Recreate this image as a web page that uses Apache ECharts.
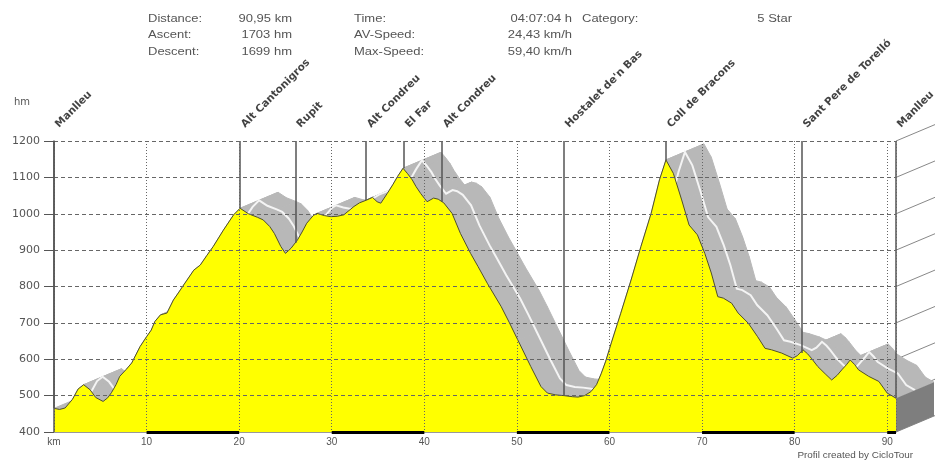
<!DOCTYPE html>
<html><head><meta charset="utf-8">
<script src="https://cdn.jsdelivr.net/npm/echarts@6/dist/echarts.min.js"></script>
<style>html,body{margin:0;padding:0;background:#fff}#c{width:935px;height:463px}</style>
</head><body><div id="c"></div>
<script>
const profileKm = [0,0.6,1.2,2.0,2.6,3.2,3.9,4.5,5.3,5.8,6.2,6.7,7.1,7.8,8.4,9.3,10.0,10.5,10.9,11.5,12.2,12.9,13.5,14.0,15.1,15.8,16.5,17.2,18.3,19.4,20.1,21.0,22.0,22.6,23.3,23.8,24.5,25.0,25.6,26.3,26.8,27.3,28.0,28.4,29.2,29.9,30.6,31.3,32.4,33.0,33.8,34.4,34.9,35.3,36.0,36.6,37.1,37.7,38.2,38.7,39.1,39.6,40.3,41.0,41.5,42.1,43.0,43.9,45.0,45.8,46.8,48.3,49.2,50.1,51.5,52.6,53.3,54.2,55.1,56.0,56.6,57.3,58.0,58.6,59.1,59.6,60.2,61.2,62.3,63.4,64.5,65.4,66.1,66.9,67.8,68.6,69.5,70.3,71.0,71.7,72.3,73.2,73.9,75.0,76.0,76.8,77.5,78.6,79.8,80.3,80.9,81.4,81.8,82.5,83.3,84.0,84.6,85.1,85.6,86.0,86.5,86.9,88.0,89.1,90.0,90.95];
const profileElev = [465,462,466,490,518,530,516,495,484,494,508,530,553,572,590,635,662,680,704,722,727,763,785,804,845,859,885,910,955,997,1015,1000,990,983,965,946,910,891,905,928,950,974,995,1001,995,992,993,997,1020,1030,1038,1045,1033,1029,1056,1080,1102,1125,1110,1093,1075,1056,1033,1043,1040,1030,1001,946,891,855,809,745,700,653,580,525,507,502,500,497,496,500,511,530,560,595,645,725,815,910,1001,1093,1148,1111,1038,969,942,891,837,772,768,754,727,699,662,630,626,617,603,610,626,615,603,580,560,543,556,571,585,598,585,571,553,539,507,493];

const waypointNames = ['Manlleu','Alt Cantonigros','Rupit','Alt Condreu','El Far','Alt Condreu',"Hostalet de'n Bas",'Coll de Bracons','Sant Pere de Torelló','Manlleu'];
const waypointKm = [0,20.1,26.1,33.7,37.8,41.9,55.1,66.1,80.8,90.95];
const waypointElev = [465,1015,920,1038,1125,1033,500,1148,617,493];

const scaleBarStart = [10,30,50,70,90];
const scaleBarEnd = [20,40,60,80,90.95];
const elevTicks = [400,500,600,700,800,900,1000,1100,1200];

const statLabelsA = ['Distance:','Ascent:','Descent:'];
const statValuesA = ['90,95 km','1703 hm','1699 hm'];
const statLabelsB = ['Time:','AV-Speed:','Max-Speed:'];
const statValuesB = ['04:07:04 h','24,43 km/h','59,40 km/h'];
const statLabelsC = ['Category:'];
const statValuesC = ['5 Star'];

const DEPTH = [38, -16];
const FONT = 'Liberation Sans, Arial, sans-serif';
const WIDE = 'DejaVu Sans, sans-serif';
const profile = profileKm.map((k, i) => [k, profileElev[i]]);
const lastKm = profileKm[profileKm.length - 1];

const chart = echarts.init(document.getElementById('c'), null, {renderer: 'canvas'});

function shift(p, f) { return [p[0] + DEPTH[0] * f, p[1] + DEPTH[1] * f]; }

const graphics = [];
const rowY = [19, 35, 52];
function headText(t, x, y, align) {
  graphics.push({type: 'text', x: x, y: y, scaleX: 1.3, z: 10,
    style: {text: t, font: '10px ' + FONT, fill: '#555', align: align, verticalAlign: 'middle'}});
}
statLabelsA.forEach((t, i) => headText(t, 148, rowY[i], 'left'));
statValuesA.forEach((t, i) => headText(t, 292, rowY[i], 'right'));
statLabelsB.forEach((t, i) => headText(t, 354, rowY[i], 'left'));
statValuesB.forEach((t, i) => headText(t, 572, rowY[i], 'right'));
statLabelsC.forEach((t, i) => headText(t, 582, rowY[i], 'left'));
statValuesC.forEach((t, i) => headText(t, 792, rowY[i], 'right'));
graphics.push({type: 'text', x: 913, y: 456, scaleX: 1.1, z: 10,
  style: {text: 'Profil created by CicloTour', font: '9px ' + FONT, fill: '#555', align: 'right', verticalAlign: 'middle'}});

const option = {
  animation: false,
  backgroundColor: '#fff',
  grid: {left: 54, right: 39, top: 141, bottom: 31},
  graphic: graphics,
  xAxis: {
    type: 'value', min: 0, max: lastKm, interval: 10, z: 6,
    axisLine: {show: true, lineStyle: {color: '#999', width: 1}},
    axisTick: {show: false},
    axisLabel: {margin: 5, color: '#555', fontFamily: FONT, fontSize: 10,
      formatter: v => (Math.abs(v % 10) > 0.001 ? '' : (v === 0 ? 'km' : String(v)))},
    splitLine: {show: true, lineStyle: {color: '#666', width: 1, type: [1, 2]}}
  },
  yAxis: {
    type: 'value', min: 400, max: 1200, interval: 100, z: 6,
    name: 'hm', nameLocation: 'end', nameGap: 34,
    nameTextStyle: {color: '#555', fontFamily: WIDE, fontSize: 10, align: 'right', padding: [0, 24, 0, 0]},
    axisLine: {show: true, lineStyle: {color: '#555', width: 1.5}},
    axisTick: {show: true, length: 10, lineStyle: {color: '#555'}},
    axisLabel: {margin: 14, color: '#555', fontFamily: WIDE, fontSize: 11, formatter: v => String(v)},
    splitLine: {show: true, lineStyle: {color: '#666', width: 1, type: [4, 3]}}
  },
  series: [
    { // right-hand 3D box lines
      type: 'custom', z: 1, silent: true, clip: false,
      data: [[lastKm, 400]],
      renderItem: (params, api) => {
        const children = elevTicks.map(v => {
          const a = api.coord([lastKm, v]);
          const b = shift(a, 1.2);
          return {type: 'line', shape: {x1: a[0], y1: a[1], x2: b[0], y2: b[1]}, style: {stroke: '#888', lineWidth: 1}};
        });
        return {type: 'group', children};
      }
    },
    { // depth band of the profile
      type: 'custom', z: 2, silent: true, clip: false,
      data: [[0, 400]],
      renderItem: (params, api) => {
        const pts = profile.map(p => api.coord(p));
        const children = [];
        for (let i = 0; i < pts.length - 1; i++) {
          const a = pts[i], b = pts[i + 1];
          children.push({type: 'polygon', shape: {points: [a, b, shift(b, 1), shift(a, 1)]},
            style: {fill: '#b8b8b8', stroke: '#b8b8b8', lineWidth: 1}});
        }
        return {type: 'group', children};
      }
    },
    { // white highlight line in the band
      type: 'custom', z: 3, silent: true, clip: false,
      data: [[0, 400]],
      renderItem: (params, api) => {
        const pts = profile.map(p => shift(api.coord(p), 0.5));
        return {type: 'polyline', shape: {points: pts}, style: {stroke: '#f4f4f4', lineWidth: 2, fill: null}};
      }
    },
    { // the yellow profile
      type: 'line', z: 4, data: profile, symbol: 'none', silent: true,
      lineStyle: {color: '#4f4f2a', width: 1},
      areaStyle: {color: '#ffff00', opacity: 1},
      markLine: {
        silent: true, symbol: 'none', label: {show: false},
        lineStyle: {color: '#555', width: 1.5, type: 'solid'},
        data: waypointKm.map((k, i) => [{coord: [k, waypointElev[i]]}, {coord: [k, 1200]}])
      }
    },
    { // end cap
      type: 'custom', z: 5, silent: true, clip: false,
      data: [[lastKm, 400]],
      renderItem: (params, api) => {
        const e = api.coord(profile[profile.length - 1]);
        const b = api.coord([lastKm, 400]);
        return {type: 'polygon', shape: {points: [e, b, shift(b, 1), shift(e, 1)]}, style: {fill: '#7e7e7e'}};
      }
    },
    { // scale bar on the km axis
      type: 'custom', z: 7, silent: true, clip: false,
      data: scaleBarStart.map((s, i) => [s, scaleBarEnd[i]]),
      renderItem: (params, api) => {
        const a = api.coord([api.value(0), 400]);
        const b = api.coord([api.value(1), 400]);
        return {type: 'rect', shape: {x: a[0], y: a[1] - 1, width: b[0] - a[0], height: 3}, style: {fill: '#000'}};
      }
    },
    { // waypoint names
      type: 'scatter', z: 8, silent: true, symbolSize: 0.1, clip: false,
      data: waypointKm.map((k, i) => ({name: waypointNames[i], value: [k, 1200]})),
      label: {show: true, formatter: p => p.name, position: [7, -11], align: 'left', verticalAlign: 'bottom',
        rotate: 45, color: '#111', fontFamily: WIDE, fontSize: 10.5, fontWeight: 'bold'}
    }
  ]
};
chart.setOption(option);
</script></body></html>
